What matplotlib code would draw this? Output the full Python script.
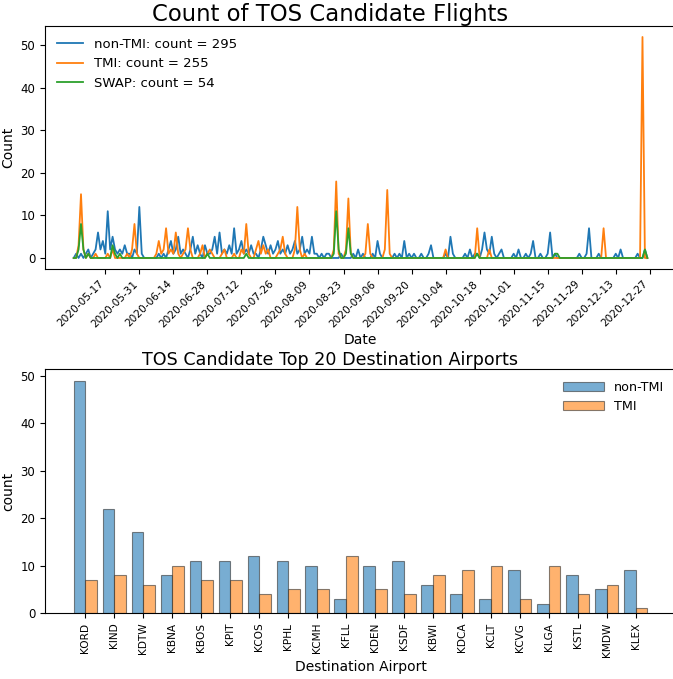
import matplotlib
matplotlib.use("Agg")
import matplotlib.pyplot as plt
import matplotlib.dates as mdates
import numpy as np
import pandas as pd

# ---------------- data: top chart (daily counts) ----------------
start_date = "2020-05-04"
non_tmi = [
    0, 1, 0, 1, 0, 1, 2, 0, 1, 2,
    6, 2, 4, 1, 11, 2, 5, 2, 1, 2,
    1, 3, 1, 1, 0, 2, 1, 12, 1, 0,
    0, 0, 0, 0, 0, 1, 0, 1, 0, 2,
    4, 1, 2, 5, 1, 2, 1, 0, 2, 5,
    1, 3, 1, 0, 3, 1, 1, 2, 5, 1,
    6, 1, 2, 1, 3, 1, 7, 1, 2, 4,
    1, 2, 1, 3, 1, 1, 0, 2, 5, 3,
    1, 3, 1, 2, 4, 1, 2, 1, 3, 1,
    2, 4, 1, 2, 5, 1, 2, 1, 5, 1,
    1, 0, 1, 0, 1, 1, 0, 0, 0, 0,
    1, 0, 0, 0, 0, 1, 0, 2, 0, 1,
    0, 0, 0, 1, 0, 4, 1, 0, 0, 0,
    0, 0, 1, 0, 1, 0, 4, 0, 1, 0,
    1, 0, 0, 1, 0, 0, 1, 3, 0, 0,
    0, 0, 0, 1, 0, 5, 1, 0, 0, 0,
    0, 1, 0, 2, 0, 1, 1, 0, 2, 6,
    2, 1, 5, 1, 0, 1, 2, 0, 0, 0,
    0, 1, 0, 2, 0, 0, 1, 0, 1, 4,
    0, 0, 1, 0, 0, 1, 6, 0, 1, 0,
    0, 0, 0, 0, 0, 0, 0, 0, 1, 0,
    0, 1, 7, 0, 0, 0, 1, 0, 0, 0,
    0, 0, 0, 1, 0, 2, 0, 0, 0, 0,
    0, 0, 1, 0, 0, 2, 0,
]
tmi = [
    0, 0, 3, 15, 2, 0, 1, 0, 0, 1,
    0, 0, 0, 0, 1, 0, 2, 0, 0, 0,
    0, 0, 1, 0, 2, 8, 1, 0, 0, 0,
    0, 0, 0, 0, 1, 4, 1, 2, 7, 1,
    2, 1, 6, 1, 0, 1, 2, 7, 2, 0,
    0, 0, 1, 3, 0, 1, 2, 1, 0, 0,
    0, 1, 2, 0, 0, 0, 1, 0, 0, 2,
    1, 8, 1, 0, 0, 2, 4, 1, 3, 1,
    2, 0, 0, 0, 1, 2, 5, 1, 0, 0,
    0, 2, 12, 2, 0, 1, 0, 0, 0, 0,
    0, 0, 0, 0, 0, 0, 0, 2, 18, 1,
    0, 0, 2, 14, 1, 0, 0, 0, 0, 0,
    1, 8, 1, 0, 0, 0, 0, 0, 2, 16,
    1, 0, 0, 0, 0, 0, 0, 0, 0, 0,
    0, 0, 0, 0, 0, 0, 0, 0, 0, 0,
    0, 0, 0, 2, 0, 0, 0, 0, 0, 0,
    0, 0, 0, 0, 0, 0, 7, 0, 0, 0,
    0, 2, 0, 0, 0, 0, 0, 0, 0, 0,
    0, 0, 0, 0, 0, 0, 0, 0, 0, 0,
    0, 0, 0, 0, 0, 0, 0, 0, 0, 0,
    0, 0, 0, 0, 0, 0, 0, 0, 0, 0,
    0, 0, 0, 0, 0, 0, 0, 0, 7, 0,
    0, 0, 0, 0, 0, 0, 0, 0, 0, 0,
    0, 0, 0, 0, 52, 0, 0,
]
swap = [
    0, 0, 2, 8, 2, 0, 1, 0, 0, 0,
    0, 0, 0, 0, 0, 0, 3, 1, 0, 1,
    0, 0, 0, 0, 0, 0, 0, 0, 0, 0,
    0, 0, 0, 0, 0, 0, 0, 0, 0, 0,
    0, 0, 0, 0, 0, 0, 0, 0, 0, 0,
    0, 0, 0, 0, 0, 1, 0, 0, 0, 0,
    0, 0, 0, 0, 0, 0, 0, 0, 0, 0,
    0, 1, 0, 0, 0, 0, 0, 0, 0, 0,
    0, 0, 0, 0, 0, 0, 0, 0, 0, 0,
    0, 0, 0, 0, 0, 0, 0, 0, 0, 0,
    0, 0, 0, 0, 0, 0, 0, 1, 11, 2,
    0, 0, 1, 7, 1, 0, 0, 0, 0, 0,
    0, 0, 0, 0, 0, 0, 0, 0, 0, 0,
    0, 0, 0, 0, 0, 0, 0, 0, 0, 0,
    0, 0, 0, 0, 0, 0, 0, 0, 0, 0,
    0, 0, 0, 0, 0, 0, 0, 0, 0, 0,
    0, 0, 0, 0, 0, 0, 1, 0, 0, 0,
    0, 0, 0, 0, 0, 0, 0, 0, 0, 0,
    0, 0, 0, 0, 0, 0, 0, 0, 0, 0,
    0, 0, 0, 0, 0, 0, 0, 0, 1, 1,
    0, 0, 0, 0, 0, 0, 0, 0, 0, 0,
    0, 0, 0, 0, 0, 0, 0, 0, 0, 0,
    0, 0, 0, 0, 0, 0, 0, 0, 0, 0,
    0, 0, 0, 0, 0, 2, 0,
]
legend_labels = ["non-TMI: count = 295", "TMI: count = 255", "SWAP: count = 54"]
tick_dates = ["2020-05-17", "2020-05-31", "2020-06-14", "2020-06-28", "2020-07-12",
              "2020-07-26", "2020-08-09", "2020-08-23", "2020-09-06", "2020-09-20",
              "2020-10-04", "2020-10-18", "2020-11-01", "2020-11-15", "2020-11-29",
              "2020-12-13", "2020-12-27"]

# ---------------- data: bottom chart ----------------
airports = ["KORD", "KIND", "KDTW", "KBNA", "KBOS", "KPIT", "KCOS", "KPHL", "KCMH", "KFLL",
            "KDEN", "KSDF", "KBWI", "KDCA", "KCLT", "KCVG", "KLGA", "KSTL", "KMDW", "KLEX"]
nontmi_counts = [49, 22, 17, 8, 11, 11, 12, 11, 10, 3, 10, 11, 6, 4, 3, 9, 2, 8, 5, 9]
tmi_counts = [7, 8, 6, 10, 7, 7, 4, 5, 5, 12, 5, 4, 8, 9, 10, 3, 10, 4, 6, 1]

# ---------------- figure ----------------
fig = plt.figure(figsize=(6.73, 6.79), dpi=100)
ax1 = fig.add_axes([0.0669, 0.6038, 0.9376, 0.358])
ax2 = fig.add_axes([0.0669, 0.0972, 0.9376, 0.3593])

dates = pd.date_range(start_date, periods=len(non_tmi), freq="D")
ax1.plot(dates, non_tmi, color="#1f77b4", lw=1.3, label=legend_labels[0])
ax1.plot(dates, tmi, color="#ff7f0e", lw=1.3, label=legend_labels[1])
ax1.plot(dates, swap, color="#2ca02c", lw=1.3, label=legend_labels[2])
ax1.set_xticks(pd.to_datetime(tick_dates))
ax1.xaxis.set_major_formatter(mdates.DateFormatter("%Y-%m-%d"))
ax1.tick_params(axis="x", labelsize=7.6)
ax1.tick_params(axis="y", labelsize=8.5)
plt.setp(ax1.get_xticklabels(), rotation=45, ha="right", rotation_mode="default")
ax1.set_yticks([0, 10, 20, 30, 40, 50])
ax1.set_xlabel("Date", fontsize=10, labelpad=3)
ax1.set_ylabel("Count", fontsize=10)
ax1.set_title("Count of TOS Candidate Flights", fontsize=16.4, x=0.452, pad=3)
ax1.legend(loc="upper left", fontsize=9.5, frameon=False)

x = np.arange(len(airports))
w = 0.4
ax2.bar(x - w / 2, nontmi_counts, width=w, color="#1f77b4", alpha=0.6,
        edgecolor="#333333", linewidth=0.8, label="non-TMI")
ax2.bar(x + w / 2, tmi_counts, width=w, color="#ff7f0e", alpha=0.6,
        edgecolor="#333333", linewidth=0.8, label="TMI")
ax2.set_xticks(x)
ax2.set_xticklabels(airports, rotation=90)
ax2.tick_params(axis="x", labelsize=7.6)
ax2.tick_params(axis="y", labelsize=8.5)
ax2.set_xlabel("Destination Airport", fontsize=10, labelpad=2)
ax2.set_ylabel("count", fontsize=10)
ax2.set_title("TOS Candidate Top 20 Destination Airports", fontsize=12.6, x=0.452, pad=3)
ax2.legend(loc="upper right", fontsize=9.2, handlelength=3.2, frameon=False)

fig.savefig("out.png", dpi=100)
